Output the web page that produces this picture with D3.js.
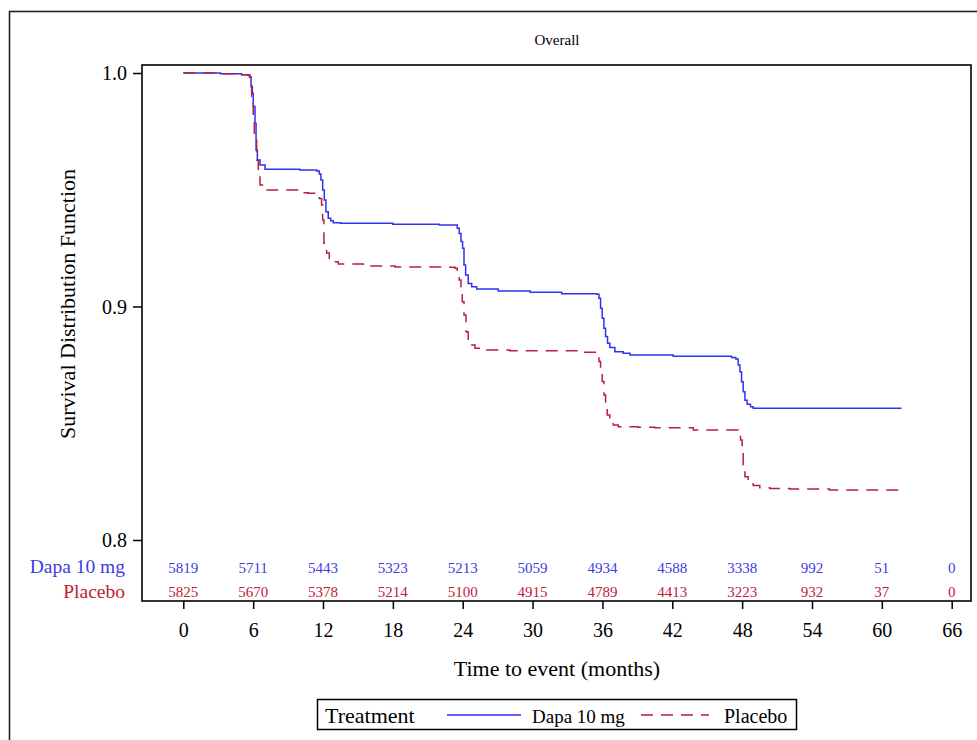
<!DOCTYPE html>
<html>
<head>
<meta charset="utf-8">
<script src="https://cdn.jsdelivr.net/npm/d3@7"></script>
<style>
  body { margin: 0; background: #fff; }
  svg text { font-family: "Liberation Serif", Tinos, "Times New Roman", Times, serif; }
</style>
</head>
<body>
<svg width="977" height="740"></svg>
<script>
// data
const timeTicks = [0, 6, 12, 18, 24, 30, 36, 42, 48, 54, 60, 66];
const survTicks = [0.8, 0.9, 1.0];
const treatments = ['Dapa 10 mg', 'Placebo'];
const atRiskDapa = [5819, 5711, 5443, 5323, 5213, 5059, 4934, 4588, 3338, 992, 51, 0];
const atRiskPlacebo = [5825, 5670, 5378, 5214, 5100, 4915, 4789, 4413, 3223, 932, 37, 0];

// [month, survival] step points
const dapaCurve = [
  [0, 1.0], [3.2, 0.9997], [5.0, 0.9993], [5.45, 0.9991], [5.67, 0.9984], [5.82, 0.9941],
  [5.93, 0.9913], [6.01, 0.9856], [6.16, 0.9785], [6.25, 0.967], [6.36, 0.9627],
  [6.59, 0.9606], [7.02, 0.9588], [10.0, 0.9585], [11.46, 0.958], [11.68, 0.9567],
  [11.82, 0.9542], [11.97, 0.9499], [12.11, 0.9456], [12.25, 0.9406], [12.45, 0.9378],
  [12.66, 0.9367], [12.88, 0.9359], [13.5, 0.9356], [18.0, 0.9352], [22.0, 0.9349],
  [23.53, 0.9335], [23.7, 0.9313], [23.85, 0.9278], [23.99, 0.9249], [24.11, 0.9178],
  [24.25, 0.9135], [24.47, 0.9099], [24.77, 0.9085], [25.2, 0.9075], [27.05, 0.9066],
  [29.8, 0.9061], [32.5, 0.9055], [35.5, 0.9053], [35.7, 0.9035], [35.84, 0.8993],
  [35.98, 0.895], [36.13, 0.8907], [36.27, 0.8871], [36.44, 0.8843], [36.64, 0.8824],
  [37.07, 0.8806], [37.78, 0.88], [38.36, 0.8792], [42.08, 0.8787], [47.09, 0.8782],
  [47.46, 0.8775], [47.66, 0.875], [47.81, 0.8721], [47.95, 0.8678], [48.09, 0.8635],
  [48.24, 0.8599], [48.43, 0.8581], [48.72, 0.8571], [48.95, 0.8564], [61.69, 0.8564]
];
const placeboCurve = [
  [0, 1.0], [3.0, 0.9997], [5.0, 0.9993], [5.58, 0.9991], [5.73, 0.9949], [5.87, 0.9899],
  [6.01, 0.9799], [6.1, 0.9713], [6.3, 0.9627], [6.44, 0.957], [6.59, 0.952],
  [6.93, 0.9499], [10.02, 0.9487], [10.73, 0.9485], [11.31, 0.9478], [11.68, 0.9463],
  [11.88, 0.9435], [11.97, 0.937], [12.08, 0.9271], [12.31, 0.9229], [12.54, 0.9206],
  [12.88, 0.9192], [13.31, 0.9182], [15.46, 0.9173], [18.2, 0.9169], [22.9, 0.9168],
  [23.33, 0.9164], [23.53, 0.9142], [23.7, 0.9114], [23.85, 0.9085], [23.96, 0.902],
  [24.11, 0.8964], [24.28, 0.8892], [24.47, 0.8849], [24.77, 0.8835], [25.05, 0.8821],
  [26.05, 0.8814], [28.05, 0.8811], [34.0, 0.8804], [35.5, 0.8797], [35.7, 0.8764],
  [35.84, 0.8721], [35.98, 0.8679], [36.13, 0.8621], [36.27, 0.8564], [36.41, 0.8535],
  [36.64, 0.8507], [36.93, 0.8493], [37.36, 0.8485], [39.07, 0.8483], [40.5, 0.8481],
  [43.8, 0.8471], [47.38, 0.8471], [47.66, 0.8457], [47.86, 0.8428], [48.0, 0.8378],
  [48.09, 0.8321], [48.24, 0.8271], [48.52, 0.825], [48.95, 0.8233], [49.52, 0.8224],
  [50.38, 0.8221], [52.1, 0.8218], [55.5, 0.8214], [61.83, 0.8214]
];

const blue = '#3030f0';
const blueText = '#3c3ce6';
const red = '#b8203a';
const redText = '#c0203a';
const serif = '"Liberation Serif", Tinos, "Times New Roman", Times, serif';

const svg = d3.select('svg');
const frame = { left: 142, right: 971, top: 65, bottom: 601 };

const xScale = d3.scaleLinear().domain([0, 66]).range([183.3, 951.7]);
const yScale = d3.scaleLinear().domain([0.8, 1.0]).range([540, 73]);

// outer border (runs off the page right and bottom)
svg.append('rect')
  .attr('x', 9.5).attr('y', 11.5)
  .attr('width', 1000).attr('height', 800)
  .attr('fill', 'none')
  .attr('stroke', '#222')
  .attr('stroke-width', 1.6);

// title
svg.append('text')
  .attr('x', 557).attr('y', 45)
  .attr('text-anchor', 'middle')
  .attr('font-size', 15)
  .text('Overall');

// plot frame
svg.append('rect')
  .attr('x', frame.left).attr('y', frame.top)
  .attr('width', frame.right - frame.left)
  .attr('height', frame.bottom - frame.top)
  .attr('fill', 'none')
  .attr('stroke', '#000')
  .attr('stroke-width', 1.6);

// y axis
const yAxis = d3.axisLeft(yScale)
  .tickValues(survTicks)
  .tickFormat(d3.format('.1f'))
  .tickSize(9)
  .tickPadding(6);
const yAxisGroup = svg.append('g')
  .attr('transform', `translate(${frame.left}, 0)`)
  .call(yAxis);
yAxisGroup.attr('font-family', serif);
yAxisGroup.select('path.domain').remove();
yAxisGroup.selectAll('line').attr('stroke', '#000').attr('stroke-width', 1.5);
yAxisGroup.selectAll('text')
  .attr('font-size', 20)
  .attr('dy', '0.34em')
  .attr('fill', '#000');

svg.append('text')
  .attr('transform', `translate(75, 304) rotate(-90)`)
  .attr('text-anchor', 'middle')
  .attr('font-size', 22)
  .text('Survival Distribution Function');

// x axis
const xAxis = d3.axisBottom(xScale)
  .tickValues(timeTicks)
  .tickSize(8)
  .tickPadding(14);
const xAxisGroup = svg.append('g')
  .attr('transform', `translate(0, ${frame.bottom})`)
  .call(xAxis);
xAxisGroup.attr('font-family', serif);
xAxisGroup.select('path.domain').remove();
xAxisGroup.selectAll('line').attr('stroke', '#000').attr('stroke-width', 1.5);
xAxisGroup.selectAll('text')
  .attr('font-size', 20)
  .attr('fill', '#000');

svg.append('text')
  .attr('x', 557).attr('y', 676)
  .attr('text-anchor', 'middle')
  .attr('font-size', 22)
  .text('Time to event (months)');

// survival curves
const line = d3.line()
  .x(d => xScale(d[0]))
  .y(d => yScale(d[1]))
  .curve(d3.curveStepAfter);

svg.append('path')
  .attr('d', line(dapaCurve))
  .attr('fill', 'none')
  .attr('stroke', blue)
  .attr('stroke-width', 1.5);

svg.append('path')
  .attr('d', line(placeboCurve))
  .attr('fill', 'none')
  .attr('stroke', red)
  .attr('stroke-width', 1.5)
  .attr('stroke-dasharray', '12,8');

// numbers at risk
const riskRows = [
  { name: treatments[0], values: atRiskDapa, color: blueText, y: 573, labelY: 573 },
  { name: treatments[1], values: atRiskPlacebo, color: redText, y: 597, labelY: 598 }
];
riskRows.forEach(row => {
  svg.append('text')
    .attr('x', 125).attr('y', row.labelY)
    .attr('text-anchor', 'end')
    .attr('font-size', 19.5)
    .attr('fill', row.color)
    .text(row.name);
  svg.append('g')
    .selectAll('text')
    .data(row.values)
    .enter()
    .append('text')
      .attr('x', (d, i) => xScale(timeTicks[i]))
      .attr('y', row.y)
      .attr('text-anchor', 'middle')
      .attr('font-size', 15)
      .attr('fill', row.color)
      .text(d => d);
});

// legend
const legend = svg.append('g').attr('class', 'legend');
legend.append('rect')
  .attr('x', 317.5).attr('y', 699.5)
  .attr('width', 479).attr('height', 30)
  .attr('fill', 'none')
  .attr('stroke', '#000')
  .attr('stroke-width', 1.5);
legend.append('text')
  .attr('x', 325).attr('y', 723)
  .attr('font-size', 22)
  .text('Treatment');
legend.append('line')
  .attr('x1', 447).attr('x2', 521)
  .attr('y1', 715).attr('y2', 715)
  .attr('stroke', blue).attr('stroke-width', 1.5);
legend.append('text')
  .attr('x', 532).attr('y', 723)
  .attr('font-size', 19)
  .text(treatments[0]);
legend.append('line')
  .attr('x1', 641).attr('x2', 709)
  .attr('y1', 715).attr('y2', 715)
  .attr('stroke', red).attr('stroke-width', 1.5)
  .attr('stroke-dasharray', '12,8');
legend.append('text')
  .attr('x', 724).attr('y', 723)
  .attr('font-size', 20)
  .text(treatments[1]);
</script>
</body>
</html>
